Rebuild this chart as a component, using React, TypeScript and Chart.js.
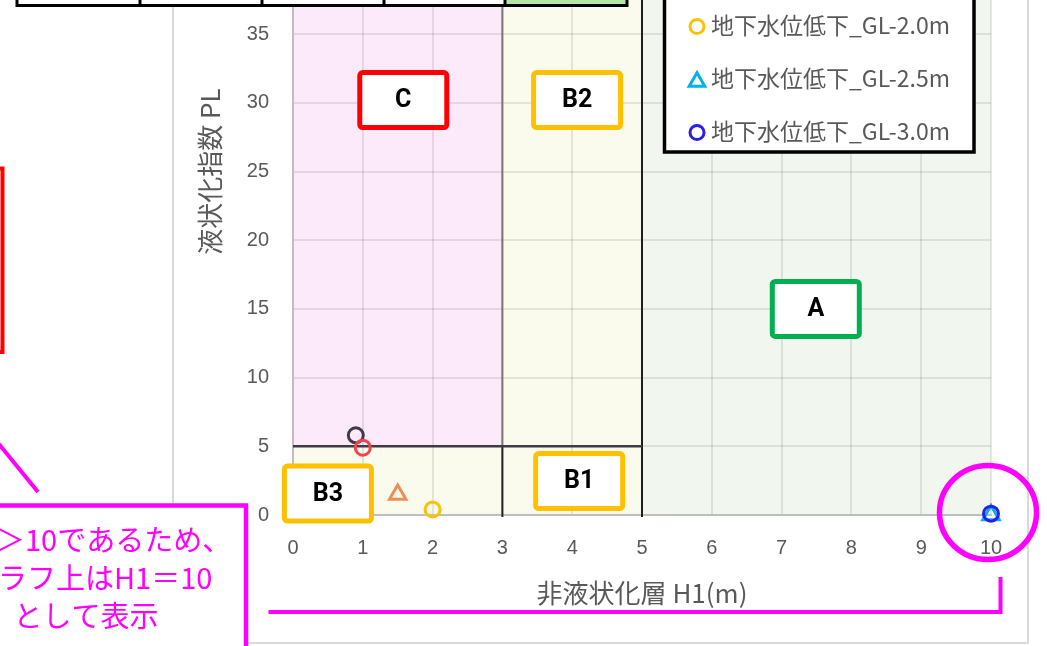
import React, { useEffect, useRef } from "react";
import { Chart, registerables } from "chart.js";

Chart.register(...registerables);

// ---------------- data ----------------
const SERIES_NAMES = [
  "現況",
  "地下水位低下_GL-1.0m",
  "地下水位低下_GL-1.5m",
  "地下水位低下_GL-2.0m",
  "地下水位低下_GL-2.5m",
  "地下水位低下_GL-3.0m",
];
const H1_VALUES = [0.9, 1.0, 1.5, 2.0, 10, 10];
const PL_VALUES = [5.8, 4.9, 1.5, 0.4, 0.0, 0.1];
const SERIES_COLORS = ["#3E3A4A", "#F5444C", "#EE8E55", "#FFC000", "#00B0F0", "#2A1FE6"];
const SERIES_SHAPES = ["circle", "circle", "triangle", "circle", "triangle", "circle"];

const X_MIN = 0;
const X_MAX = 10;
const X_STEP = 1;
const Y_MIN = 0;
const Y_MAX = 50;
const Y_STEP = 5;

const X_TITLE = "非液状化層 H1(m)";
const Y_TITLE = "液状化指数 PL";

// zone boundaries (data units)
const ZONE_H1_B = 3;
const ZONE_H1_A = 5;
const ZONE_PL = 5;
const ZONE_NAMES = ["C", "B2", "A", "B3", "B1"];
const ZONE_NAME_H1 = [1.58, 4.07, 7.49, 0.5, 4.1];
const ZONE_NAME_PL = [30.2, 30.2, 15.0, 1.56, 2.47];
const ZONE_NAME_COLORS = ["#FF0000", "#FFC000", "#00B050", "#FFC000", "#FFC000"];

const NOTE_PREFIX = ["H1", "グ", ""];
const NOTE_LINES = ["＞10であるため、", "ラフ上はH1＝10", "として表示"];

// ---------------- layout ----------------
const OFF = 208; // canvas is shifted up; page y = canvas y - OFF
const W = 1047;
const H = 646 + OFF;
const py = (v: number) => v + OFF;

const JP = '"Noto Sans CJK JP", "Noto Sans", sans-serif';
const NUM = '"Liberation Sans", Arial, sans-serif';

function roundRect(ctx: CanvasRenderingContext2D, x: number, y: number, w: number, h: number, r: number) {
  ctx.beginPath();
  ctx.moveTo(x + r, y);
  ctx.arcTo(x + w, y, x + w, y + h, r);
  ctx.arcTo(x + w, y + h, x, y + h, r);
  ctx.arcTo(x, y + h, x, y, r);
  ctx.arcTo(x, y, x + w, y, r);
  ctx.closePath();
}

function drawMarker(ctx: CanvasRenderingContext2D, shape: string, x: number, y: number, color: string) {
  ctx.save();
  ctx.strokeStyle = color;
  ctx.lineWidth = 3;
  ctx.beginPath();
  if (shape === "triangle") {
    const r = 9;
    const cy = y + r / 4;
    let rad = 0;
    ctx.moveTo(x + Math.sin(rad) * r, cy - Math.cos(rad) * r);
    rad += (2 * Math.PI) / 3;
    ctx.lineTo(x + Math.sin(rad) * r, cy - Math.cos(rad) * r);
    rad += (2 * Math.PI) / 3;
    ctx.lineTo(x + Math.sin(rad) * r, cy - Math.cos(rad) * r);
    ctx.closePath();
  } else {
    ctx.arc(x, y, 7, 0, Math.PI * 2);
  }
  ctx.stroke();
  ctx.restore();
}

const zonePlugin = {
  id: "zones",
  beforeDraw(chart: any) {
    const { ctx, scales } = chart;
    const xs = scales.x;
    const ys = scales.y;
    ctx.save();
    ctx.fillStyle = "#FFFFFF";
    ctx.fillRect(0, 0, W, H);
    const rect = (x0: number, x1: number, y0: number, y1: number, c: string) => {
      const a = xs.getPixelForValue(x0);
      const b = xs.getPixelForValue(x1);
      const t = ys.getPixelForValue(y1);
      const u = ys.getPixelForValue(y0);
      ctx.fillStyle = c;
      ctx.fillRect(a, t, b - a, u - t);
    };
    rect(X_MIN, ZONE_H1_B, ZONE_PL, Y_MAX, "#FCEAFB");
    rect(X_MIN, ZONE_H1_B, Y_MIN, ZONE_PL, "#FAFBEC");
    rect(ZONE_H1_B, ZONE_H1_A, Y_MIN, Y_MAX, "#FAFBEC");
    rect(ZONE_H1_A, X_MAX, Y_MIN, Y_MAX, "#F1F7EE");
    ctx.restore();
  },
  beforeDatasetsDraw(chart: any) {
    const { ctx, scales } = chart;
    const xs = scales.x;
    const ys = scales.y;
    const X = (v: number) => xs.getPixelForValue(v);
    const Y = (v: number) => ys.getPixelForValue(v);
    ctx.save();
    const line = (x0: number, y0: number, x1: number, y1: number, c: string, w: number) => {
      ctx.strokeStyle = c;
      ctx.lineWidth = w;
      ctx.beginPath();
      ctx.moveTo(x0, y0);
      ctx.lineTo(x1, y1);
      ctx.stroke();
    };
    line(X(ZONE_H1_B), Y(ZONE_PL), X(ZONE_H1_B), Y(Y_MAX), "#7E7479", 2);
    line(X(ZONE_H1_B), Y(Y_MIN) + 2, X(ZONE_H1_B), Y(ZONE_PL), "#222222", 2);
    line(X(ZONE_H1_A), Y(Y_MIN) + 2, X(ZONE_H1_A), Y(Y_MAX), "#1E1E1E", 2);
    line(X(X_MIN), Y(ZONE_PL), X(ZONE_H1_A), Y(ZONE_PL), "#3F3A45", 2.5);

    // zone label boxes
    ZONE_NAMES.forEach((name, i) => {
      const cx = X(ZONE_NAME_H1[i]);
      const cy = Y(ZONE_NAME_PL[i]);
      const w = 87;
      const h = 55;
      roundRect(ctx, cx - w / 2, cy - h / 2, w, h, 3);
      ctx.fillStyle = "#FFFFFF";
      ctx.fill();
      ctx.strokeStyle = ZONE_NAME_COLORS[i];
      ctx.lineWidth = 5;
      ctx.stroke();
      ctx.fillStyle = "#000000";
      ctx.font = 'bold 25px Roboto, "Liberation Sans", sans-serif';
      ctx.textAlign = "center";
      ctx.textBaseline = "middle";
      ctx.fillText(name, cx, cy + 1);
    });
    ctx.restore();
  },
  afterDatasetsDraw(chart: any) {
    const { ctx } = chart;
    const n = chart.data.datasets.length;
    const rowGap = 53;
    const lastRow = 132.5;
    const left = 664.5;
    const right = 974;
    const bottom = 152;
    const top = lastRow - rowGap * (n - 1) - 27;
    ctx.save();
    ctx.fillStyle = "#FFFFFF";
    ctx.fillRect(left, py(top), right - left, bottom - top);
    ctx.strokeStyle = "#000000";
    ctx.lineWidth = 3.5;
    ctx.strokeRect(left, py(top), right - left, bottom - top);
    chart.data.datasets.forEach((ds: any, i: number) => {
      const ry = py(lastRow - rowGap * (n - 1 - i));
      drawMarker(ctx, ds.pointStyle, 697, ry, ds.pointBorderColor);
      ctx.fillStyle = "#595959";
      ctx.font = `23px ${JP}`;
      ctx.textAlign = "left";
      ctx.textBaseline = "middle";
      ctx.fillText(ds.label, 711, ry - 1);
    });
    ctx.restore();
  },
  afterDraw(chart: any) {
    const { ctx } = chart;
    ctx.save();
    // chart area border
    ctx.strokeStyle = "#D9D9D9";
    ctx.lineWidth = 2;
    ctx.beginPath();
    ctx.moveTo(173, 0);
    ctx.lineTo(173, py(643));
    ctx.lineTo(1028, py(643));
    ctx.lineTo(1028, 0);
    ctx.stroke();

    // table at the top
    ctx.fillStyle = "#FFFFFF";
    ctx.fillRect(17, py(-40), 488, 45.5);
    ctx.fillStyle = "#B4E6A2";
    ctx.fillRect(505, py(-40), 122, 45.5);
    ctx.strokeStyle = "#000000";
    ctx.lineWidth = 3;
    ctx.beginPath();
    ctx.moveTo(15.5, py(5.5));
    ctx.lineTo(628.5, py(5.5));
    [17, 140, 262, 384, 505, 627].forEach((x) => {
      ctx.moveTo(x, py(-40));
      ctx.lineTo(x, py(5.5));
    });
    ctx.stroke();

    // red frame at the left
    ctx.strokeStyle = "#FF0000";
    ctx.lineWidth = 4;
    ctx.strokeRect(-60, py(168.5), 62.5, 183.5);

    // magenta callout line
    ctx.strokeStyle = "#FF00FF";
    ctx.lineWidth = 4;
    ctx.beginPath();
    ctx.moveTo(-6, py(438));
    ctx.lineTo(38, py(492));
    ctx.stroke();

    // magenta note box
    ctx.fillStyle = "#FFFFFF";
    ctx.fillRect(-100, py(505.5), 346, 200);
    ctx.lineWidth = 4.5;
    ctx.strokeRect(-100, py(505.5), 346, 200);
    ctx.fillStyle = "#FF00FF";
    ctx.font = `29px ${JP}`;
    ctx.textBaseline = "middle";
    ctx.textAlign = "left";
    const starts = [-4, -2];
    [0, 1].forEach((k) => {
      const pre = ctx.measureText(NOTE_PREFIX[k]).width;
      ctx.fillText(NOTE_PREFIX[k] + NOTE_LINES[k], starts[k] - pre, py(540 + 38 * k));
    });
    ctx.textAlign = "center";
    ctx.fillText(NOTE_LINES[2], 86, py(616));

    // magenta circle around H1 = 10 points
    ctx.lineWidth = 5.5;
    ctx.beginPath();
    ctx.ellipse(988, py(512.5), 48.5, 47, 0, 0, Math.PI * 2);
    ctx.stroke();

    // magenta bracket under the x axis
    ctx.lineWidth = 4;
    ctx.beginPath();
    ctx.moveTo(268.5, py(612));
    ctx.lineTo(1000.5, py(612));
    ctx.lineTo(1000.5, py(577));
    ctx.stroke();
    ctx.restore();
  },
};

export default function App() {
  const ref = useRef<HTMLCanvasElement>(null);

  useEffect(() => {
    document.body.style.margin = "0";
    const canvas = ref.current!;
    const datasets = SERIES_NAMES.map((name, i) => ({
      label: name,
      data: [{ x: H1_VALUES[i], y: PL_VALUES[i] }],
      pointStyle: SERIES_SHAPES[i],
      pointRadius: SERIES_SHAPES[i] === "triangle" ? 9.5 : 7.5,
      pointBorderWidth: 3,
      pointBorderColor: SERIES_COLORS[i],
      pointBackgroundColor: "rgba(0,0,0,0)",
      borderColor: SERIES_COLORS[i],
      backgroundColor: "rgba(0,0,0,0)",
      showLine: false,
      clip: false as any,
      order: SERIES_NAMES.length - i,
    }));

    const chart = new Chart(canvas, {
      type: "scatter",
      data: { datasets },
      options: {
        animation: false,
        responsive: false,
        devicePixelRatio: 1,
        layout: { padding: { left: 173, right: 56, top: 36, bottom: 21 } },
        plugins: { legend: { display: false }, tooltip: { enabled: false } },
        scales: {
          x: {
            type: "linear",
            min: X_MIN,
            max: X_MAX,
            ticks: { stepSize: X_STEP, padding: 21, color: "#595959", font: { family: NUM, size: 20 } },
            grid: { color: "rgba(0,0,0,0.09)", lineWidth: 2, drawTicks: false },
            border: { color: "#BFBFBF", width: 2 },
            title: {
              display: true,
              text: X_TITLE,
              color: "#595959",
              font: { family: JP, size: 26 },
              padding: { top: 0, bottom: 16 },
            },
            afterFit: (s: any) => {
              s.height = 110;
            },
          },
          y: {
            type: "linear",
            min: Y_MIN,
            max: Y_MAX,
            ticks: { stepSize: Y_STEP, padding: 24, color: "#595959", font: { family: NUM, size: 20 } },
            grid: { color: "rgba(0,0,0,0.09)", lineWidth: 2, drawTicks: false },
            border: { color: "#BFBFBF", width: 2 },
            title: {
              display: true,
              text: Y_TITLE,
              color: "#595959",
              font: { family: JP, size: 26 },
              padding: { top: 22, bottom: 0 },
            },
            afterFit: (s: any) => {
              s.width = 120;
            },
          },
        },
      } as any,
      plugins: [zonePlugin],
    });
    return () => chart.destroy();
  }, []);

  return (
    <div
      style={{
        position: "fixed",
        left: 0,
        top: 0,
        width: W,
        height: 646,
        overflow: "hidden",
        background: "#FFFFFF",
      }}
    >
      <canvas
        ref={ref}
        width={W}
        height={H}
        style={{ position: "absolute", left: 0, top: -OFF, width: W, height: H }}
      />
    </div>
  );
}
